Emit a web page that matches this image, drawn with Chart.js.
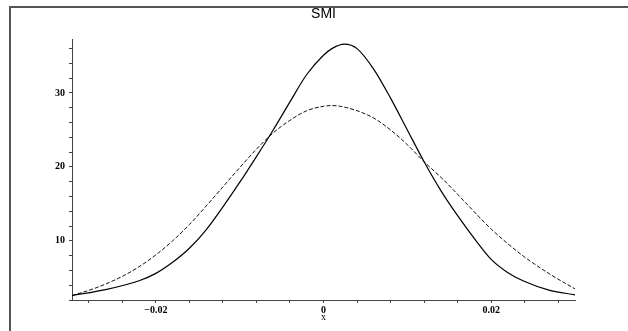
<!DOCTYPE html>
<html>
<head>
<meta charset="utf-8">
<title>SMI</title>
<script src="https://cdn.jsdelivr.net/npm/chart.js@4"></script>
<style>
  html, body { margin: 0; padding: 0; background: #fff; }
  #wrap { position: relative; width: 628px; height: 331px; overflow: hidden; }
  #frame {
    position: absolute; left: 9px; top: 6px; right: -20px; bottom: -20px;
    border-top: 2px solid #555; border-left: 2px solid #555;
    pointer-events: none;
  }
  canvas { position: absolute; left: 0; top: 0; }
</style>
</head>
<body>
<div id="wrap">
  <canvas id="smi" width="628" height="331"></canvas>
  <div id="frame"></div>
</div>
<script>
'use strict';

// ── Data ──────────────────────────────────────────────────
const TITLE = 'SMI';
const X_LABEL = 'x';

// solid curve (empirical density)
const SOLID_X = [-0.030, -0.026, -0.022, -0.020, -0.018, -0.016, -0.014, -0.012, -0.010,
                 -0.008, -0.006, -0.004, -0.002, 0.000, 0.001, 0.0025, 0.004, 0.006,
                 0.008, 0.010, 0.012, 0.014, 0.016, 0.018, 0.020, 0.022, 0.024, 0.027, 0.030];
const SOLID_Y = [2.6, 3.4, 4.6, 5.6, 7.1, 9.0, 11.5, 14.6, 17.9,
                 21.4, 25.0, 28.8, 32.5, 35.1, 36.0, 36.6, 36.0, 33.2,
                 29.3, 25.0, 20.7, 16.8, 13.4, 10.3, 7.5, 5.7, 4.5, 3.3, 2.7];

// dashed curve (normal fit)
const DASHED_X = [-0.030, -0.027, -0.024, -0.022, -0.020, -0.018, -0.016, -0.014, -0.012,
                  -0.010, -0.008, -0.006, -0.004, -0.002, 0.000, 0.001, 0.002, 0.004,
                  0.006, 0.008, 0.010, 0.012, 0.014, 0.016, 0.018, 0.020, 0.022, 0.024,
                  0.027, 0.030];
const DASHED_Y = [2.6, 3.7, 5.2, 6.5, 8.1, 10.0, 12.2, 14.7, 17.3,
                  19.9, 22.4, 24.6, 26.3, 27.6, 28.2, 28.3, 28.2, 27.6,
                  26.6, 25.0, 23.0, 20.7, 18.6, 16.3, 13.9, 11.6, 9.6, 7.8,
                  5.5, 3.5];

const X_RANGE = [-0.03, 0.03];
const Y_RANGE = [2.0, 37.3];
const X_MAJOR = [-0.02, 0, 0.02];
const X_MINOR_STEP = 0.004;
const Y_MAJOR = [10, 20, 30];
const Y_MINOR_STEP = 2;

// ── Helpers ───────────────────────────────────────────────
const TICK_FONT = { family: "'Liberation Serif', 'DejaVu Serif', serif", size: 10, weight: 'bold' };
const AXIS_COL = '#444';

function stepTicks(min, max, step) {
  const out = [];
  const start = Math.ceil(min / step - 1e-9);
  const end = Math.floor(max / step + 1e-9);
  for (let k = start; k <= end; k++) out.push({ value: +(k * step).toFixed(6) });
  return out;
}
function isMajor(v, majors) {
  return majors.some(m => Math.abs(m - v) < 1e-9);
}
function fmtX(v) {
  if (Math.abs(v) < 1e-12) return '0';
  return (v < 0 ? '\u2212' : '') + Math.abs(v).toFixed(2);
}
function points(xs, ys) {
  return xs.map((x, i) => ({ x, y: ys[i] }));
}

// title drawn over the centre of the plot area
const titlePlugin = {
  id: 'smiTitle',
  afterDraw(chart) {
    const { ctx, chartArea } = chart;
    ctx.save();
    ctx.font = "14px 'Liberation Sans', Arial, sans-serif";
    ctx.fillStyle = '#000';
    ctx.textAlign = 'center';
    ctx.textBaseline = 'middle';
    ctx.fillText(TITLE, (chartArea.left + chartArea.right) / 2, 14);
    ctx.restore();
  }
};

// ── Chart ─────────────────────────────────────────────────
new Chart(document.getElementById('smi'), {
  type: 'line',
  data: {
    datasets: [
      {
        label: 'empirical',
        data: points(SOLID_X, SOLID_Y),
        borderColor: '#000',
        borderWidth: 1.2,
        pointRadius: 0,
        cubicInterpolationMode: 'monotone',
        fill: false,
      },
      {
        label: 'normal',
        data: points(DASHED_X, DASHED_Y),
        borderColor: '#111',
        borderWidth: 1,
        borderDash: [4, 2],
        pointRadius: 0,
        cubicInterpolationMode: 'monotone',
        fill: false,
      }
    ]
  },
  options: {
    responsive: false,
    devicePixelRatio: 1,
    animation: false,
    layout: { padding: { left: 0, right: 53, top: 39, bottom: 0 } },
    plugins: { legend: { display: false }, tooltip: { enabled: false }, title: { display: false } },
    scales: {
      x: {
        type: 'linear',
        min: X_RANGE[0], max: X_RANGE[1],
        afterBuildTicks: s => { s.ticks = stepTicks(X_RANGE[0] + 1e-6, X_RANGE[1] - 1e-6, X_MINOR_STEP); },
        afterFit: s => { s.height = 31; },
        border: { color: AXIS_COL, width: 1 },
        grid: { drawOnChartArea: false, drawTicks: true, tickLength: 3, tickColor: AXIS_COL },
        ticks: {
          autoSkip: false, maxRotation: 0, padding: 1,
          font: TICK_FONT, color: '#000',
          callback: v => isMajor(v, X_MAJOR) ? fmtX(v) : ''
        },
        title: {
          display: true, text: X_LABEL, color: '#000',
          font: { family: "'Liberation Serif', 'DejaVu Serif', serif", size: 10 },
          padding: { top: 0, bottom: 8 }
        }
      },
      y: {
        type: 'linear',
        min: Y_RANGE[0], max: Y_RANGE[1],
        afterBuildTicks: s => { s.ticks = stepTicks(Y_RANGE[0] - 1e-6, Y_RANGE[1], Y_MINOR_STEP); },
        afterFit: s => { s.width = 72; },
        border: { color: AXIS_COL, width: 1 },
        grid: { drawOnChartArea: false, drawTicks: true, tickLength: 3, tickColor: AXIS_COL },
        ticks: {
          autoSkip: false, padding: 4,
          font: TICK_FONT, color: '#000',
          callback: v => isMajor(v, Y_MAJOR) ? String(v) : ''
        }
      }
    }
  },
  plugins: [titlePlugin]
});
</script>
</body>
</html>
